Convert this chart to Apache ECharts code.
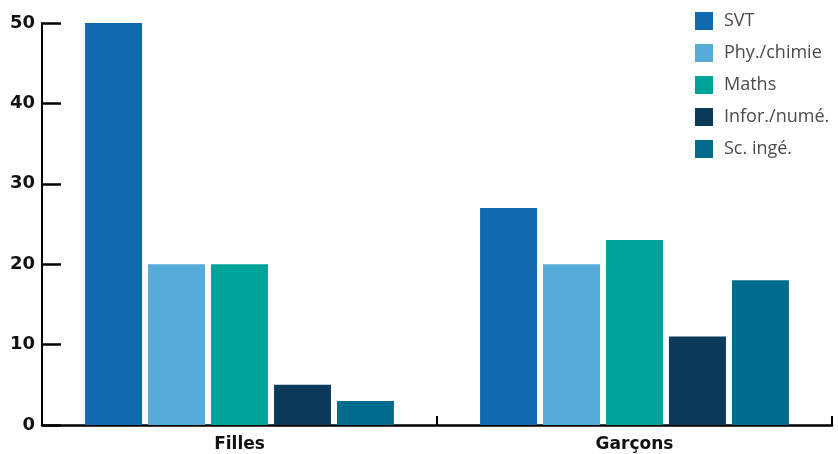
<!DOCTYPE html>
<html>
<head>
<meta charset="utf-8">
<script src="https://cdn.jsdelivr.net/npm/echarts@6/dist/echarts.min.js"></script>
<style>
  html, body { margin: 0; padding: 0; background: #fff; }
  #chart { width: 838px; height: 454px; }
</style>
</head>
<body>
<div id="chart"></div>
<script>
// Groups on the x axis
const categories = ['Filles', 'Garçons'];

// Subject names (legend order) and their values per group
const subjects = ['SVT', 'Phy./chimie', 'Maths', 'Infor./numé.', 'Sc. ingé.'];
const svt = [50, 27];
const phyChimie = [20, 20];
const maths = [20, 23];
const inforNume = [5, 11];
const scInge = [3, 18];

const yTicks = [0, 10, 20, 30, 40, 50];

const colors = ['#1169b0', '#55acd8', '#00a39a', '#0b3a5a', '#006b8c'];
const seriesValues = [svt, phyChimie, maths, inforNume, scInge];

const chart = echarts.init(document.getElementById('chart'), null, { renderer: 'canvas' });

chart.setOption({
  animation: false,
  color: colors,
  grid: { left: 42, right: 6, top: 23, bottom: 29, containLabel: false },
  legend: {
    orient: 'vertical',
    left: 695,
    top: 12,
    padding: 0,
    itemWidth: 18,
    itemHeight: 18,
    itemGap: 14,
    icon: 'rect',
    textStyle: { fontFamily: 'Open Sans', fontSize: 18, color: '#4a4a4a', padding: [2, 0, 0, 6] },
    data: subjects
  },
  xAxis: {
    type: 'category',
    data: categories,
    axisLine: { lineStyle: { color: '#000', width: 2.5 } },
    axisTick: { show: true, inside: true, length: 9, lineStyle: { color: '#000', width: 2 } },
    axisLabel: { fontFamily: 'DejaVu Sans', fontWeight: 'bold', fontSize: 17, color: '#111', margin: 11 }
  },
  yAxis: {
    type: 'value',
    min: yTicks[0],
    max: yTicks[yTicks.length - 1],
    interval: 10,
    splitLine: { show: false },
    axisLine: { show: true, lineStyle: { color: '#000', width: 2 } },
    axisTick: { show: true, inside: true, length: 19, lineStyle: { color: '#000', width: 2.5 } },
    axisLabel: { fontFamily: 'DejaVu Sans', fontWeight: 'bold', fontSize: 18, color: '#111', margin: 7 }
  },
  series: subjects.map((name, i) => ({
    name,
    type: 'bar',
    data: seriesValues[i],
    barGap: '10.5%',
    barCategoryGap: '21.8%',
    itemStyle: { color: colors[i] }
  }))
});
</script>
</body>
</html>
